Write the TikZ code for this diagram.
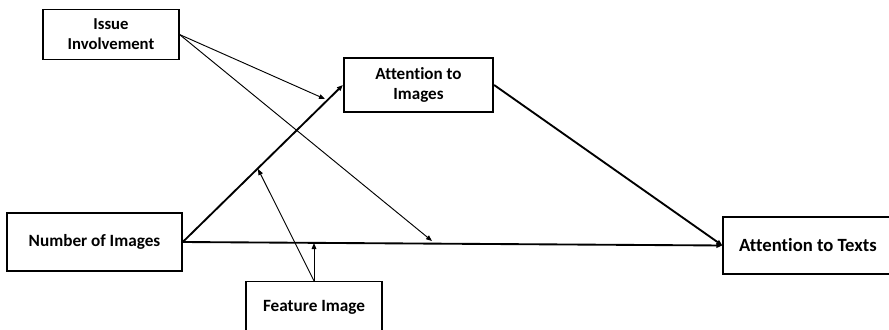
\documentclass[tikz,border=0pt]{standalone}
\usepackage{fontspec}
\setmainfont{Carlito}[Ligatures=CommonOff]
\usetikzlibrary{arrows.meta}
\begin{document}
\begin{tikzpicture}[x=0.75pt,y=-0.75pt,
  box/.style={draw,fill=white,align=center,font=\fontsize{12.5}{14.8}\selectfont\bfseries,inner sep=0pt},
  thinbox/.style={box,line width=0.8pt},
  thickbox/.style={box,line width=1.4pt},
  tip/.style={-{Triangle[length=4.5pt,width=3.5pt]}},
  thinarrow/.style={tip,line width=0.7pt},
  thickarrow/.style={tip,line width=1.4pt}]
\useasboundingbox (0,0) rectangle (889,329);
\node[thinbox,minimum width=102pt,minimum height=37pt] (II) at (111,34.5) {Issue\\Involvement};
\node[thickbox,minimum width=112pt,minimum height=40.5pt,font=\fontsize{12.8}{14.8}\selectfont\bfseries] (AI) at (418.5,85) {Attention to\\Images};
\node[thickbox,minimum width=131pt,minimum height=43.5pt,font=\fontsize{12.9}{14.8}\selectfont\bfseries] (NI) at (94.5,242) {Number of Images};
\node[thickbox,minimum width=127pt,minimum height=43pt,font=\fontsize{14}{16}\selectfont\bfseries] (AT) at (808,245.5) {Attention to Texts};
\node[thinbox,minimum width=102pt,minimum height=40pt,font=\fontsize{12.9}{14.8}\selectfont\bfseries] (FI) at (314,308) {\raisebox{3pt}{Feature Image}};
\coordinate (m1) at (325,99);
\coordinate (m2) at (432,241);
\coordinate (m3) at (314,243);
\coordinate (m4) at (258,169);
\draw[thickarrow] (NI.east) -- (AI.west);
\draw[thickarrow] (NI.east) -- (AT.west);
\draw[thickarrow] (AI.east) -- (AT.west);
\draw[thinarrow] (II.east) -- (m1);
\draw[thinarrow] (II.east) -- (m2);
\draw[thinarrow] (FI.north) -- (m3);
\draw[thinarrow] (FI.north) -- (m4);
\end{tikzpicture}
\end{document}
